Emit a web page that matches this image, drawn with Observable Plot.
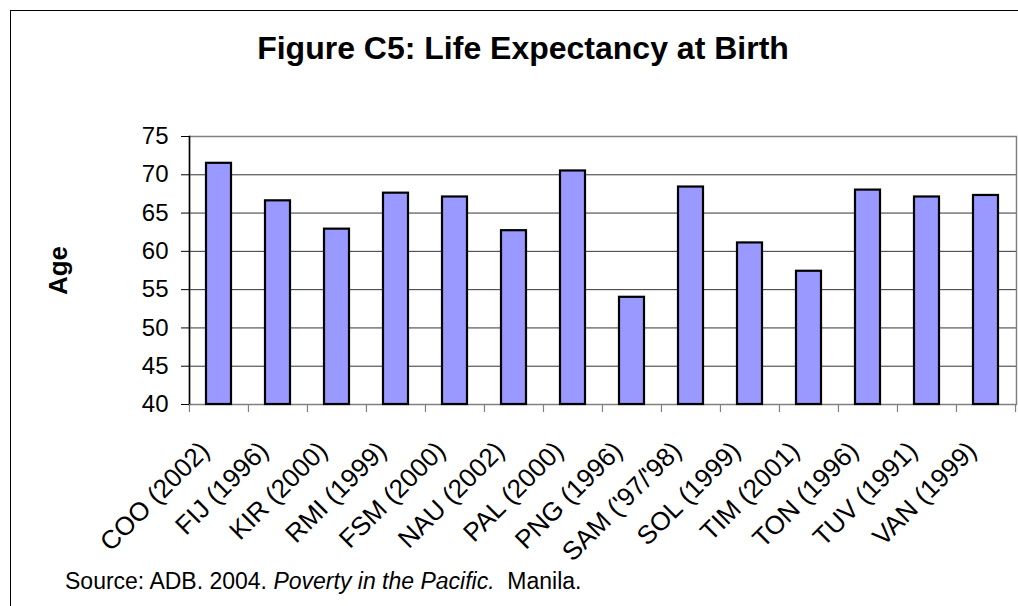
<!DOCTYPE html>
<html>
<head>
<meta charset="utf-8">
<script src="https://cdn.jsdelivr.net/npm/d3@7"></script>
<script src="https://cdn.jsdelivr.net/npm/@observablehq/plot@0.6"></script>
<style>
  html, body { margin: 0; padding: 0; background: #fff; }
  body { width: 1018px; height: 606px; position: relative; overflow: hidden;
         font-family: "Liberation Sans", Arial, Helvetica, sans-serif; color: #000; }
  #border { position: absolute; left: 10px; top: 10px; width: 1200px; height: 800px;
            border-left: 1.5px solid #000; border-top: 1.5px solid #000; }
  #title { position: absolute; left: 0; width: 1046px; top: 32px; text-align: center;
           font-size: 32px; line-height: 32px; font-weight: bold; }
  #chart { position: absolute; left: 0; top: 110px; }
  #caption { position: absolute; left: 65px; top: 570px; font-size: 23px; line-height: 23px; white-space: pre; }
</style>
</head>
<body>
<div id="border"></div>
<div id="title">Figure C5: Life Expectancy at Birth</div>
<div id="chart"></div>
<div id="caption">Source: ADB. 2004. <i>Poverty in the Pacific.</i>  Manila.</div>
<script>
const categories = ["COO (2002)", "FIJ (1996)", "KIR (2000)", "RMI (1999)", "FSM (2000)", "NAU (2002)", "PAL (2000)",
                    "PNG (1996)", "SAM ('97/'98)", "SOL (1999)", "TIM (2001)", "TON (1996)", "TUV (1991)", "VAN (1999)"];
const lifeExpectancy = [71.5, 66.6, 62.9, 67.6, 67.1, 62.7, 70.5, 54.0, 68.4, 61.1, 57.4, 68.0, 67.1, 67.3];
const yTicks = [40, 45, 50, 55, 60, 65, 70, 75];
const gridValues = [45, 50, 55, 60, 65, 70];
const yMin = 40, yMax = 75;
const yLabel = "Age";

const data = categories.map((c, i) => ({category: c, value: lifeExpectancy[i]}));

const width = 1018, height = 460;
const marginLeft = 189, marginRight = 2, marginTop = 26, marginBottom = 166;
const step = (width - marginLeft - marginRight) / categories.length;
const font = "Liberation Sans, Arial, Helvetica, sans-serif";

const chart = Plot.plot({
  width, height, marginLeft, marginRight, marginTop, marginBottom,
  style: {background: "none", overflow: "visible", fontFamily: font, color: "#000"},
  x: {type: "band", domain: categories, paddingInner: 0.576, paddingOuter: 0.288, label: null, axis: null},
  y: {domain: [yMin, yMax], label: null, axis: null},
  marks: [
    Plot.gridY(gridValues, {stroke: "#000", strokeOpacity: 0.8, strokeWidth: 1}),
    Plot.frame({stroke: "#808080", strokeWidth: 1.5}),
    Plot.frame({anchor: "left", stroke: "#000", strokeWidth: 1.5}),
    Plot.barY(data, {x: "category", y1: () => yMin, y2: "value", fill: "#9999FF", stroke: "#000", strokeWidth: 2.2}),
    Plot.axisY({ticks: yTicks, tickSize: 8, tickPadding: 13, fontSize: 24, stroke: "#000", label: null}),
    Plot.axisX({tickSize: 8, dx: -step / 2, text: null, stroke: "#808080", strokeWidth: 1.2, label: null}),
    Plot.axisX({ticks: [categories[categories.length - 1]], tickSize: 8, dx: step / 2, text: null, stroke: "#808080", strokeWidth: 1.2, label: null}),
    Plot.text(categories, {x: d => d, text: d => d, frameAnchor: "bottom", rotate: -45, textAnchor: "end", lineAnchor: "middle",
                           dx: -14, dy: 42, fontSize: 26, fill: "#000"}),
    Plot.text([yLabel], {frameAnchor: "left", rotate: -90, textAnchor: "middle", lineAnchor: "middle",
                         dx: -131, fontSize: 26, fontWeight: "bold", text: d => d, fill: "#000"})
  ]
});
document.getElementById("chart").appendChild(chart);
</script>
</body>
</html>
